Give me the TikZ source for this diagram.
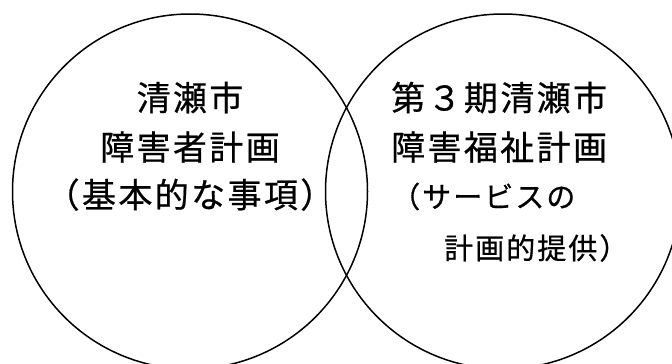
\documentclass[tikz,border=0pt]{standalone}
\usepackage{fontspec}
\newfontfamily\jpbig[LetterSpace=7,FakeBold=0.6]{Noto Sans CJK JP}
\newfontfamily\jpsmall[LetterSpace=7,FakeBold=0.6]{Noto Sans CJK JP}
\begin{document}
\begin{tikzpicture}[x=1pt,y=-1pt,
  setcircle/.style={draw=black,line width=1.5pt},
  bigtext/.style={inner sep=0pt,anchor=base,font=\jpbig\fontsize{34}{40}\selectfont},
  bigtextw/.style={inner sep=0pt,anchor=base west,font=\jpbig\fontsize{34}{40}\selectfont},
  smalltextw/.style={inner sep=0pt,anchor=base west,font=\jpsmall\fontsize{29}{34}\selectfont}]
\useasboundingbox (0,0) rectangle (672,364);
\draw[setcircle] (190,191.5) circle[radius=177.5];
\draw[setcircle] (503,191.5) circle[radius=177.5];
% left circle text
\node[bigtext] (l1) at (190,110.5) {清瀬市};
\node[bigtext] (l2) at (190,160) {障害者計画};
\node[bigtext] (l3) at (190,207.5) {（基本的な事項）};
% right circle text
\node[bigtextw] (r1) at (391,110.5) {第３期清瀬市};
\node[bigtextw] (r2) at (391,160) {障害福祉計画};
\node[smalltextw] (r3) at (391,207.5) {（サービスの};
\node[smalltextw] (r4) at (444,259) {計画的提供）};
\end{tikzpicture}
\end{document}
